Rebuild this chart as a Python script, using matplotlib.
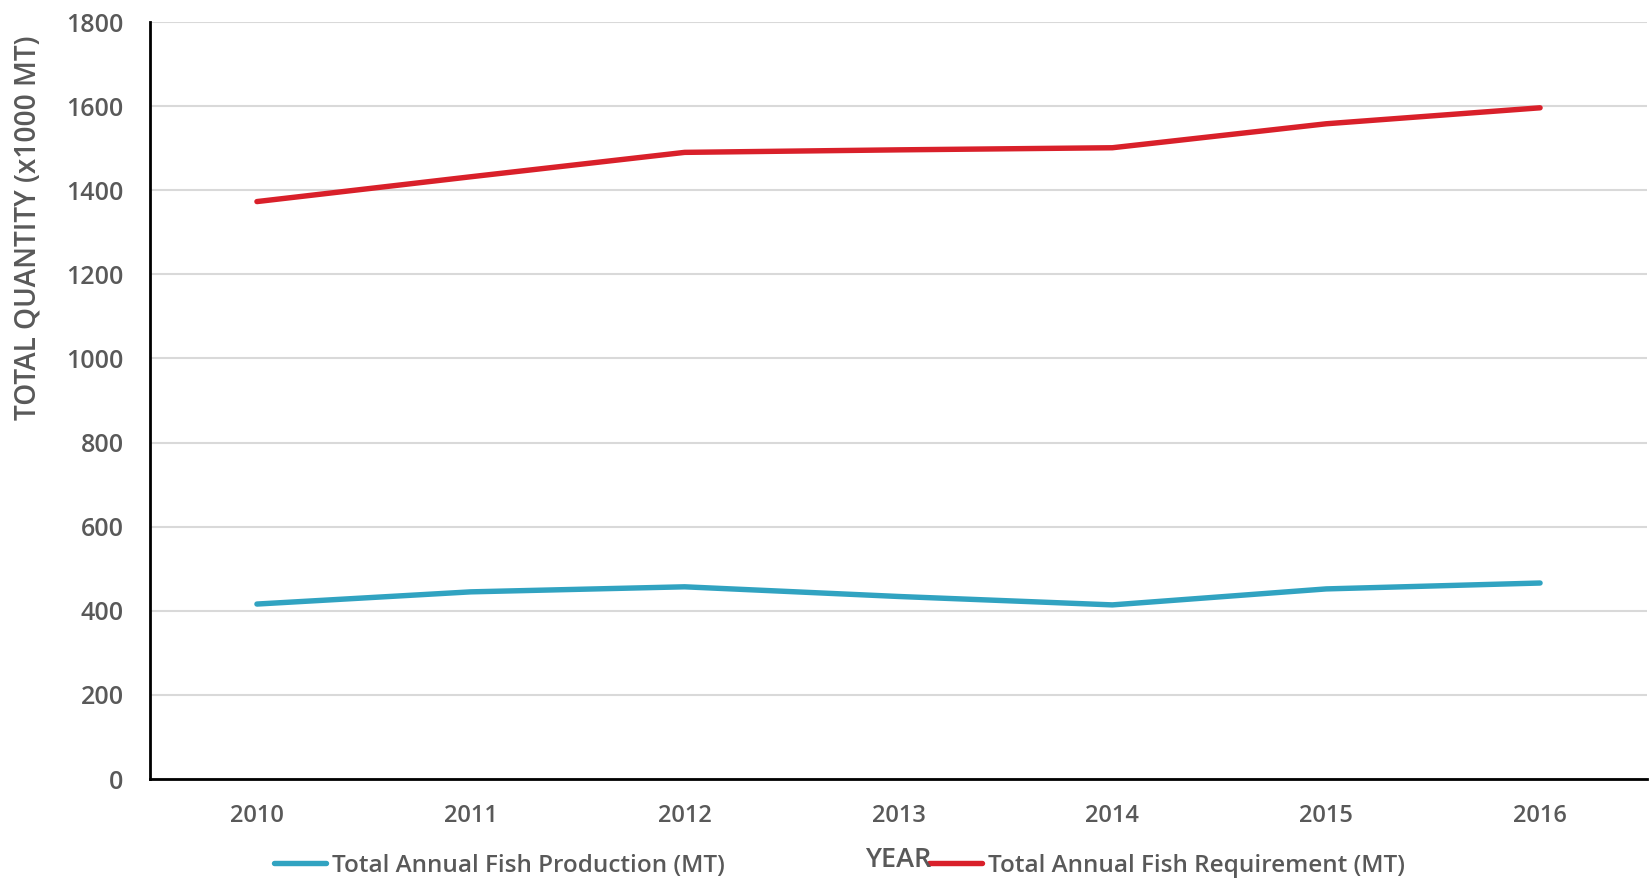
import matplotlib
matplotlib.use("Agg")
import matplotlib.pyplot as plt

years = ["2010", "2011", "2012", "2013", "2014", "2015", "2016"]
production = [416, 445, 457, 434, 414, 452, 466]
requirement = [1373, 1432, 1490, 1496, 1501, 1558, 1596]
yticks = [0, 200, 400, 600, 800, 1000, 1200, 1400, 1600, 1800]

font = "Open Sans"
wt = "semibold"
grey = "#595959"
blue = "#31A3C1"
red = "#D9202A"

fig = plt.figure(figsize=(16.5, 8.8), dpi=100)
ax = fig.add_axes([150/1650, 1 - 779/880, 1497/1650, 757/880])

x = list(range(len(years)))
ax.plot(x, production, color=blue, lw=3.9, solid_capstyle="round",
        label="Total Annual Fish Production (MT)", zorder=3)
ax.plot(x, requirement, color=red, lw=3.9, solid_capstyle="round",
        label="Total Annual Fish Requirement (MT)", zorder=3)

ax.set_xlim(-0.5, len(years) - 0.5)
ax.set_ylim(0, 1800)
ax.set_yticks(yticks)
ax.set_xticks(x)
ax.set_xticklabels(years)
for s in ["top", "right"]:
    ax.spines[s].set_visible(False)
for s in ["left", "bottom"]:
    ax.spines[s].set_color("black")
    ax.spines[s].set_linewidth(2)
ax.yaxis.grid(True, color="#d9d9d9", lw=1.5)
ax.set_axisbelow(True)
ax.tick_params(axis="both", length=0, colors=grey)
ax.tick_params(axis="y", pad=19, labelsize=18)
ax.tick_params(axis="x", pad=18, labelsize=17)
for lab in ax.get_yticklabels() + ax.get_xticklabels():
    lab.set_fontfamily(font)
    lab.set_fontweight(wt)

ax.set_ylabel("TOTAL QUANTITY (x1000 MT)", fontsize=20.2, color=grey,
              family=font, fontweight=wt)
ax.yaxis.set_label_coords(-0.072, 0.728)

fig.text(898/1650, 1 - 860/880, "YEAR", ha="center", va="center",
         fontsize=19.5, color=grey, family=font, fontweight=wt)

leg = ax.legend(loc="center left", bbox_to_anchor=(274/1650, 1 - 866/880),
                bbox_transform=fig.transFigure, ncol=2, frameon=False,
                handlelength=2.15, handletextpad=0.25, columnspacing=8.4,
                prop={"family": font, "size": 17.5, "weight": wt},
                borderaxespad=0, borderpad=0)
for t in leg.get_texts():
    t.set_color(grey)
for h in leg.get_lines():
    h.set_linewidth(3.9)

fig.savefig("out.png", dpi=100, facecolor="white")
